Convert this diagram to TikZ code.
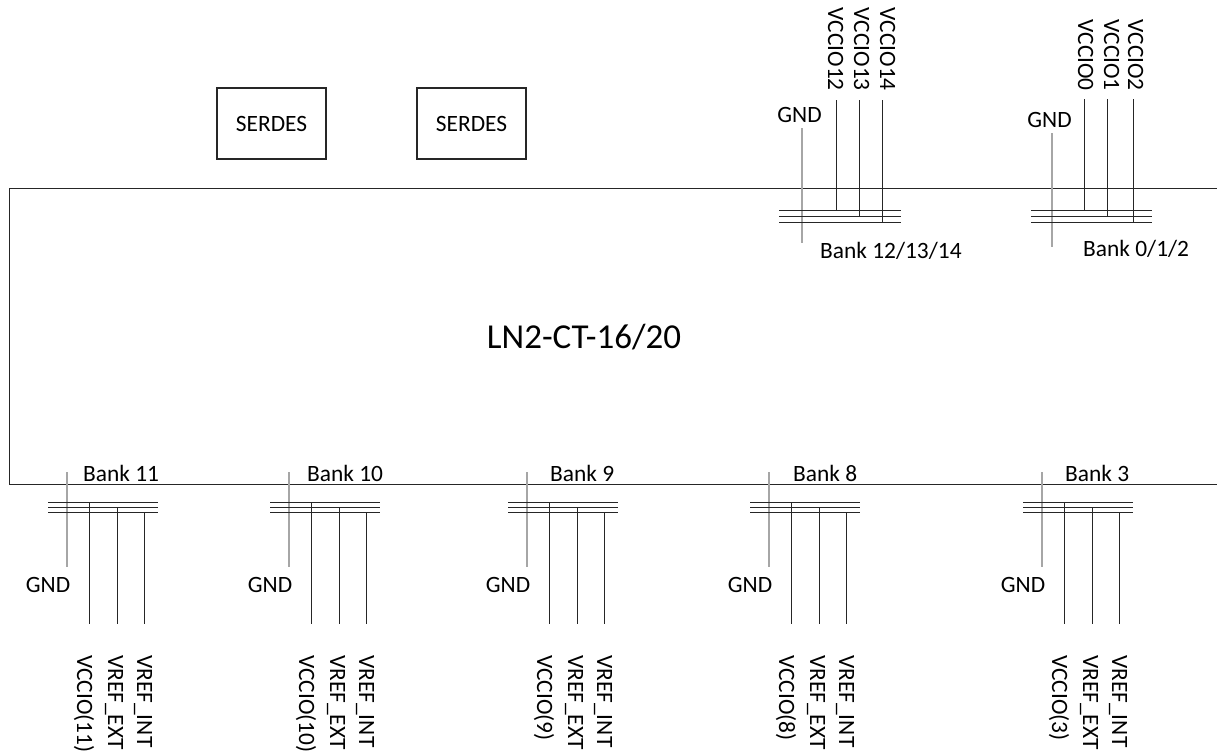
\documentclass[tikz,border=0pt]{standalone}
\usepackage{fontspec}
\setmainfont{Carlito}

\begin{document}
\begin{tikzpicture}[x=1pt, y=-1pt,
    wire/.style={black!85, line width=0.9pt},
    gndwire/.style={black!35, line width=2.6pt},
    lbl/.style={inner sep=0pt, font=\fontsize{23.4}{28}\selectfont},
    pin/.style={lbl, rotate=-90},
    block/.style={draw=black!85, line width=1.1pt, minimum width=109pt,
      minimum height=71pt, inner sep=0pt, font=\fontsize{23.4}{28}\selectfont}]
    \useasboundingbox (0,0) rectangle (1217,752);

    % chip outline, open on the right
    \draw[wire] (1217,188) -- (9,188) -- (9,484) -- (1217,484);
    \node[lbl, font=\fontsize{35}{42}\selectfont, anchor=base] (chip) at (584,348) {LN2-CT-16/20};

    % serdes blocks
    \node[block] (serdesA) at (271.5,123.5) {SERDES};
    \node[block] (serdesB) at (471.5,123.5) {SERDES};

    % bank 12/13/14 (top)
    \coordinate (gt12) at (802,128);
    \coordinate (gb12) at (802,243);
    \draw[gndwire] (gt12) -- (gb12);
    \foreach \y in {210,216,222}
      \draw[wire] (779,\y) -- (901,\y);
    \node[lbl] (gnd12) at (799.5,115) {GND};
    \node[lbl, anchor=base west] (bank12) at (820,258) {Bank 12/13/14};
    \foreach \x/\y/\bx/\s [count=\i] in {836/210/828/12, 859/216/854/13, 882/222/880/14} {
      \coordinate (top12-\i) at (\x,100);
      \coordinate (bus12-\i) at (\x,\y);
      \draw[wire] (top12-\i) -- (bus12-\i);
      \node[pin, anchor=base east] (pin12-\i) at (\bx,91) {VCCIO\s};
    }

    % bank 0/1/2 (top)
    \coordinate (gt0) at (1052,133);
    \coordinate (gb0) at (1052,247);
    \draw[gndwire] (gt0) -- (gb0);
    \foreach \y in {210,216,222}
      \draw[wire] (1031,\y) -- (1152,\y);
    \node[lbl] (gnd0) at (1049.5,119.5) {GND};
    \node[lbl, anchor=base west] (bank0) at (1083,256) {Bank 0/1/2};
    \foreach \x/\y/\bx/\s [count=\i] in {1084/210/1078/0, 1107/216/1104/1, 1133/222/1128/2} {
      \coordinate (top0-\i) at (\x,99);
      \coordinate (bus0-\i) at (\x,\y);
      \draw[wire] (top0-\i) -- (bus0-\i);
      \node[pin, anchor=base east] (pin0-\i) at (\bx,91) {VCCIO\s};
    }

    % bottom banks
    \foreach \g/\n/\o in {67/11/16, 289/10/18, 527/9/23, 769/8/24, 1042/3/23} {
      \coordinate (gt\n) at (\g,472);
      \coordinate (gb\n) at (\g,567);
      \draw[gndwire] (gt\n) -- (gb\n);
      \foreach \y in {502,507,512}
        \draw[wire] (\g-19,\y) -- (\g+91,\y);
      \node[lbl] (gnd\n) at (\g-19,584.5) {GND};
      \node[lbl, anchor=base west] (bank\n) at (\g+\o,481) {Bank \n};
      \foreach \dx/\y/\bx/\s [count=\i] in {22/502/10/VCCIO(\n), 50/507/41/VREF\_EXT, 77/512/70/VREF\_INT} {
        \coordinate (bus\n-\i) at (\g+\dx,\y);
        \coordinate (end\n-\i) at (\g+\dx,624);
        \draw[wire] (bus\n-\i) -- (end\n-\i);
        \node[pin, anchor=base west] (pin\n-\i) at (\g+\bx,655) {\s};
      }
    }
\end{tikzpicture}
\end{document}
